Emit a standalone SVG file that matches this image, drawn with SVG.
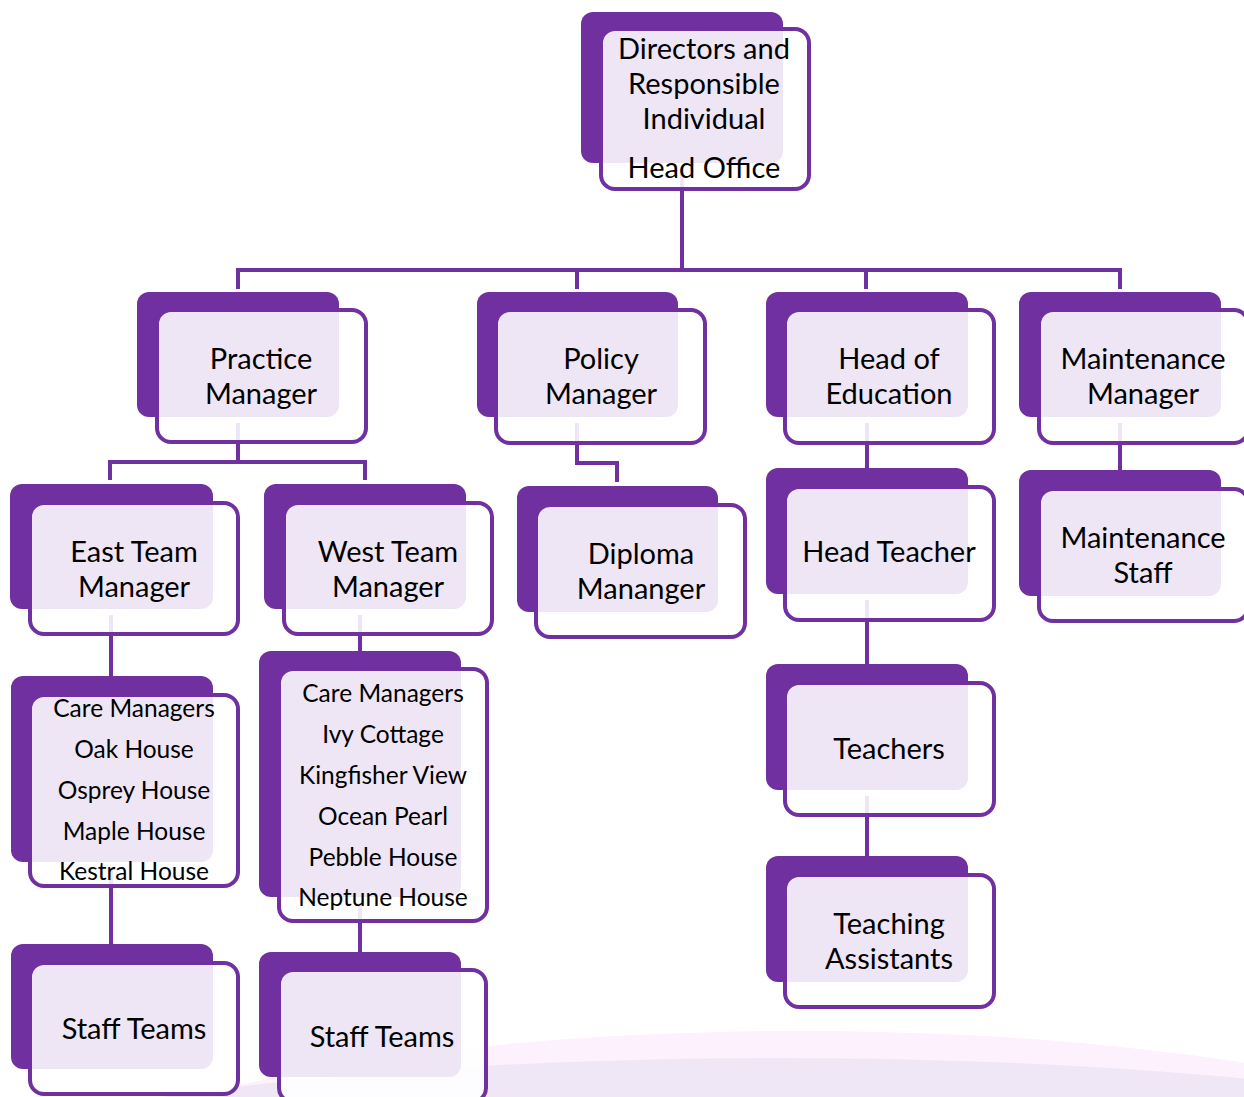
<svg xmlns="http://www.w3.org/2000/svg" width="1244" height="1097" viewBox="0 0 1244 1097">
<style>
.back{fill:#7030A0}
.front{fill:#FFFFFF;fill-opacity:0.88;stroke:#7030A0;stroke-width:4}
.conn{fill:none;stroke:#7030A0;stroke-width:4}
text{font-family:Lato,"Liberation Sans",sans-serif;font-size:29px;fill:#000;text-anchor:middle}
.sm{font-size:24.5px}
</style>
<rect width="1244" height="1097" fill="#FFFFFF"/>
<g id="background">
<ellipse cx="800" cy="1231" rx="820" ry="200" fill="#FCF1FC"/>
<ellipse cx="780" cy="1208" rx="920" ry="150" fill="#EFE7F5"/>
</g>
<g id="connectors">
<path class="conn" d="M682,170 V270"/>
<path class="conn" d="M238,289 V270 H1120 V289 M577,270 V289 M866,270 V289"/>
<path class="conn" d="M238,423 V462 M110,480 V462 H365 V480"/>
<path class="conn" d="M577,423 V463 H617 V482"/>
<path class="conn" d="M867,423 V470"/>
<path class="conn" d="M1120,423 V472"/>
<path class="conn" d="M111,615 V678"/>
<path class="conn" d="M360,615 V653"/>
<path class="conn" d="M111,868 V946"/>
<path class="conn" d="M360,903 V954"/>
<path class="conn" d="M867,600 V666"/>
<path class="conn" d="M867,796 V858"/>
</g>
<g id="directors">
<rect class="back" x="581" y="12" width="202" height="151" rx="12"/>
<rect class="front" x="601" y="29" width="208" height="160" rx="14"/>
<text x="704" y="59">Directors and</text>
<text x="704" y="94">Responsible</text>
<text x="704" y="129">Individual</text>
<text x="704" y="178">Head Office</text>
</g>
<g id="practice-manager">
<rect class="back" x="137" y="292" width="202" height="125" rx="12"/>
<rect class="front" x="157" y="310" width="209" height="132" rx="14"/>
<text x="261" y="369">Practice</text>
<text x="261" y="404">Manager</text>
</g>
<g id="policy-manager">
<rect class="back" x="477" y="292" width="201" height="125" rx="12"/>
<rect class="front" x="496" y="310" width="209" height="133" rx="14"/>
<text x="601" y="369">Policy</text>
<text x="601" y="404">Manager</text>
</g>
<g id="head-of-education">
<rect class="back" x="766" y="292" width="202" height="125" rx="12"/>
<rect class="front" x="785" y="310" width="209" height="133" rx="14"/>
<text x="889" y="369">Head of</text>
<text x="889" y="404">Education</text>
</g>
<g id="maintenance-manager">
<rect class="back" x="1019" y="292" width="202" height="125" rx="12"/>
<rect class="front" x="1039" y="310" width="209" height="133" rx="14"/>
<text x="1143" y="369">Maintenance</text>
<text x="1143" y="404">Manager</text>
</g>
<g id="east-team-manager">
<rect class="back" x="10" y="484" width="203" height="125" rx="12"/>
<rect class="front" x="30" y="503" width="208" height="131" rx="14"/>
<text x="134" y="562">East Team</text>
<text x="134" y="597">Manager</text>
</g>
<g id="west-team-manager">
<rect class="back" x="264" y="484" width="202" height="125" rx="12"/>
<rect class="front" x="284" y="503" width="208" height="131" rx="14"/>
<text x="388" y="562">West Team</text>
<text x="388" y="597">Manager</text>
</g>
<g id="diploma-manager">
<rect class="back" x="517" y="486" width="201" height="126" rx="12"/>
<rect class="front" x="536" y="505" width="209" height="132" rx="14"/>
<text x="641" y="564">Diploma</text>
<text x="641" y="599">Mananger</text>
</g>
<g id="head-teacher">
<rect class="back" x="766" y="468" width="202" height="126" rx="12"/>
<rect class="front" x="785" y="487" width="209" height="133" rx="14"/>
<text x="889" y="562">Head Teacher</text>
</g>
<g id="maintenance-staff">
<rect class="back" x="1019" y="470" width="202" height="126" rx="12"/>
<rect class="front" x="1039" y="489" width="209" height="132" rx="14"/>
<text x="1143" y="548">Maintenance</text>
<text x="1143" y="583">Staff</text>
</g>
<g id="east-care-managers">
<rect class="back" x="11" y="676" width="202" height="186" rx="12"/>
<rect class="front" x="30" y="695" width="208" height="191" rx="14"/>
<text class="sm" x="134" y="717">Care Managers</text>
<text class="sm" x="134" y="758">Oak House</text>
<text class="sm" x="134" y="799">Osprey House</text>
<text class="sm" x="134" y="840">Maple House</text>
<text class="sm" x="134" y="880">Kestral House</text>
</g>
<g id="west-care-managers">
<rect class="back" x="259" y="651" width="202" height="246" rx="12"/>
<rect class="front" x="279" y="669" width="208" height="252" rx="14"/>
<text class="sm" x="383" y="702">Care Managers</text>
<text class="sm" x="383" y="743">Ivy Cottage</text>
<text class="sm" x="383" y="784">Kingfisher View</text>
<text class="sm" x="383" y="825">Ocean Pearl</text>
<text class="sm" x="383" y="866">Pebble House</text>
<text class="sm" x="383" y="906">Neptune House</text>
</g>
<g id="teachers">
<rect class="back" x="766" y="664" width="202" height="126" rx="12"/>
<rect class="front" x="785" y="683" width="209" height="132" rx="14"/>
<text x="889" y="759">Teachers</text>
</g>
<g id="teaching-assistants">
<rect class="back" x="766" y="856" width="202" height="126" rx="12"/>
<rect class="front" x="785" y="875" width="209" height="132" rx="14"/>
<text x="889" y="934">Teaching</text>
<text x="889" y="969">Assistants</text>
</g>
<g id="east-staff-teams">
<rect class="back" x="11" y="944" width="202" height="125" rx="12"/>
<rect class="front" x="30" y="963" width="208" height="131" rx="14"/>
<text x="134" y="1039">Staff Teams</text>
</g>
<g id="west-staff-teams">
<rect class="back" x="259" y="952" width="202" height="125" rx="12"/>
<rect class="front" x="279" y="970" width="207" height="132" rx="14"/>
<text x="382" y="1047">Staff Teams</text>
</g>
</svg>
